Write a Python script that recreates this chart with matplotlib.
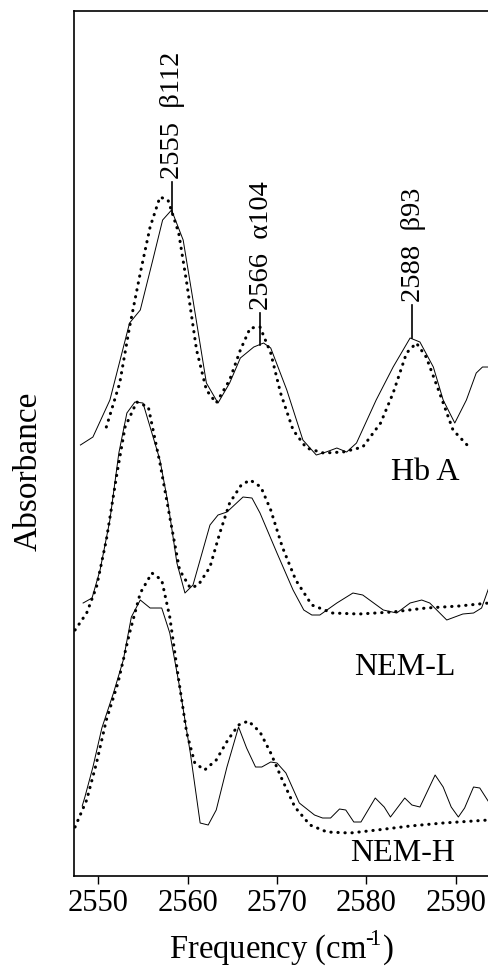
import matplotlib
matplotlib.use("Agg")
import matplotlib.pyplot as plt

# frequency (cm-1) / absorbance (arbitrary, offset traces)
hba_obs_f = [2548.0, 2549.4, 2551.3, 2553.5, 2554.7, 2556.1, 2557.2, 2558.2, 2559.5, 2560.6,
             2562.1, 2563.4, 2564.7, 2565.9, 2567.4, 2568.5, 2569.3, 2571.1, 2572.9, 2574.4,
             2575.5, 2576.7, 2577.8, 2578.9, 2581.1, 2583.0, 2584.9, 2586.0, 2587.5, 2588.6,
             2589.9, 2591.2, 2592.3, 2593.0, 2593.7]
hba_obs_a = [431, 439, 476, 553, 566, 616, 656, 666, 636, 576,
             493, 473, 493, 518, 529, 533, 528, 486, 436, 421,
             424, 428, 424, 433, 476, 509, 538, 534, 509, 476,
             453, 476, 503, 509, 509]
hba_fit_f = [2550.9, 2552.4, 2553.5, 2554.7, 2555.8, 2556.9, 2557.8, 2559.0, 2559.9, 2561.0,
             2562.1, 2563.2, 2564.7, 2565.9, 2567.0, 2568.1, 2569.3, 2570.4, 2571.8, 2573.3,
             2575.2, 2577.4, 2579.6, 2581.6, 2583.0, 2584.5, 2585.6, 2586.7, 2588.2, 2589.7,
             2591.6]
hba_fit_a = [449, 493, 549, 603, 649, 679, 676, 643, 593, 526,
             486, 473, 496, 526, 548, 549, 523, 483, 446, 428,
             423, 424, 429, 453, 483, 523, 533, 519, 483, 446,
             428]

neml_obs_f = [2548.3, 2549.3, 2550.2, 2551.3, 2552.3, 2553.2, 2554.1, 2555.0, 2555.8, 2556.9,
              2557.8, 2558.8, 2559.7, 2560.6, 2562.5, 2563.4, 2564.4, 2566.2, 2567.2, 2568.1,
              2570.0, 2571.8, 2573.0, 2573.9, 2574.8, 2576.7, 2578.5, 2579.6, 2581.9, 2583.4,
              2584.9, 2586.2, 2587.1, 2589.0, 2590.8, 2592.0, 2592.9, 2593.7]
neml_obs_a = [273, 278, 306, 356, 423, 463, 474, 473, 449, 416,
              373, 313, 283, 291, 351, 361, 364, 379, 378, 363,
              323, 286, 266, 261, 261, 273, 283, 281, 266, 263,
              273, 276, 273, 256, 262, 263, 268, 288]
neml_fit_f = [2547.4, 2548.7, 2549.8, 2550.9, 2552.1, 2553.0, 2554.3, 2555.6, 2556.9, 2558.0,
              2559.1, 2560.3, 2561.2, 2562.5, 2563.6, 2564.7, 2566.0, 2567.0, 2568.2, 2569.3,
              2570.6, 2572.1, 2573.9, 2576.2, 2579.2, 2582.9, 2586.7, 2590.4, 2593.7]
neml_fit_a = [246, 263, 289, 336, 403, 449, 474, 469, 413, 359,
              306, 288, 291, 309, 343, 373, 391, 396, 389, 366,
              329, 296, 271, 263, 262, 264, 268, 270, 273]

nemh_obs_f = [2548.2, 2548.5, 2549.4, 2550.4, 2551.7, 2552.8, 2553.7, 2554.7, 2555.8, 2557.1,
              2558.0, 2559.1, 2560.3, 2561.4, 2562.3, 2563.2, 2564.4, 2565.7, 2566.6, 2567.6,
              2568.3, 2569.3, 2570.0, 2571.0, 2572.5, 2574.2, 2575.1, 2576.0, 2577.0, 2577.7,
              2578.6, 2579.4, 2581.0, 2582.0, 2582.7, 2584.3, 2585.1, 2586.0, 2587.7, 2588.6,
              2589.5, 2590.3, 2591.0, 2592.0, 2592.7, 2593.7]
nemh_obs_a = [70, 79, 109, 148, 183, 216, 259, 276, 268, 268,
              243, 189, 123, 53, 51, 66, 109, 149, 128, 109,
              109, 114, 113, 103, 73, 61, 58, 58, 67, 66,
              54, 54, 78, 69, 59, 78, 71, 69, 101, 89,
              69, 59, 68, 89, 88, 74]
nemh_fit_f = [2547.4, 2548.7, 2549.8, 2550.9, 2552.2, 2553.5, 2554.7, 2556.0, 2557.1, 2558.0,
              2559.0, 2559.9, 2560.8, 2561.9, 2563.2, 2564.5, 2565.7, 2566.8, 2568.1, 2569.3,
              2570.5, 2572.0, 2573.7, 2575.6, 2578.2, 2581.2, 2584.9, 2588.6, 2593.7]
nemh_fit_a = [49, 76, 113, 156, 193, 243, 283, 303, 296, 259,
              196, 143, 113, 106, 116, 136, 151, 155, 144, 123,
              98, 69, 51, 44, 43, 46, 50, 53, 56]

# peak markers on the Hb A trace: label, line x, line bottom, line top
peak_labels = ["2555  \u03b2112", "2566  \u03b1104", "2588  \u03b293"]
peak_x = [2558.2, 2568.1, 2585.1]
peak_lo = [663, 531, 538]
peak_hi = [694, 563, 571]

trace_names = ["Hb A", "NEM-L", "NEM-H"]
trace_name_x = [2586.6, 2584.3, 2584.1]
trace_name_y = [404, 209, 23]

xticks = [2550, 2560, 2570, 2580, 2590]

plt.rcParams["font.family"] = ["Liberation Serif", "DejaVu Serif"]
plt.rcParams["mathtext.fontset"] = "custom"
plt.rcParams["mathtext.rm"] = "Liberation Serif"

fig = plt.figure(figsize=(4.89, 9.67), dpi=100)
ax = fig.add_axes([0.1513, 0.0941, 0.8487, 0.8945])

solid = dict(color="black", lw=0.7)
dotted = dict(color="black", lw=2.2, linestyle=(0, (0.1, 2.2)), dash_capstyle="round")
for f, a in [(hba_obs_f, hba_obs_a), (neml_obs_f, neml_obs_a), (nemh_obs_f, nemh_obs_a)]:
    ax.plot(f, a, **solid)
for f, a in [(hba_fit_f, hba_fit_a), (neml_fit_f, neml_fit_a), (nemh_fit_f, nemh_fit_a)]:
    ax.plot(f, a, **dotted)

for lab, x, lo, hi in zip(peak_labels, peak_x, peak_lo, peak_hi):
    ax.plot([x, x], [lo, hi], color="black", lw=1.2)
    ax.text(x + 0.15, hi + 3, lab, rotation=90, ha="center", va="bottom", fontsize=20.5)

for name, x, y in zip(trace_names, trace_name_x, trace_name_y):
    ax.text(x, y, name, ha="center", va="center", fontsize=23)

ax.set_xlim(2547.28, 2593.73)
ax.set_ylim(0, 865)
ax.set_xticks(xticks)
ax.set_yticks([])
ax.tick_params(axis="x", direction="out", length=6, width=1.0, labelsize=22, pad=3)
ax.spines["right"].set_visible(False)
for s in ["left", "top", "bottom"]:
    ax.spines[s].set_linewidth(1.2)

ax.set_xlabel("Frequency (cm$^{\u2010\\!1}$)", fontsize=23.5, labelpad=8)
ax.set_ylabel("Absorbance", fontsize=24)
ax.yaxis.set_label_coords(-0.072, 0.468)

fig.savefig("out.png", dpi=100)
